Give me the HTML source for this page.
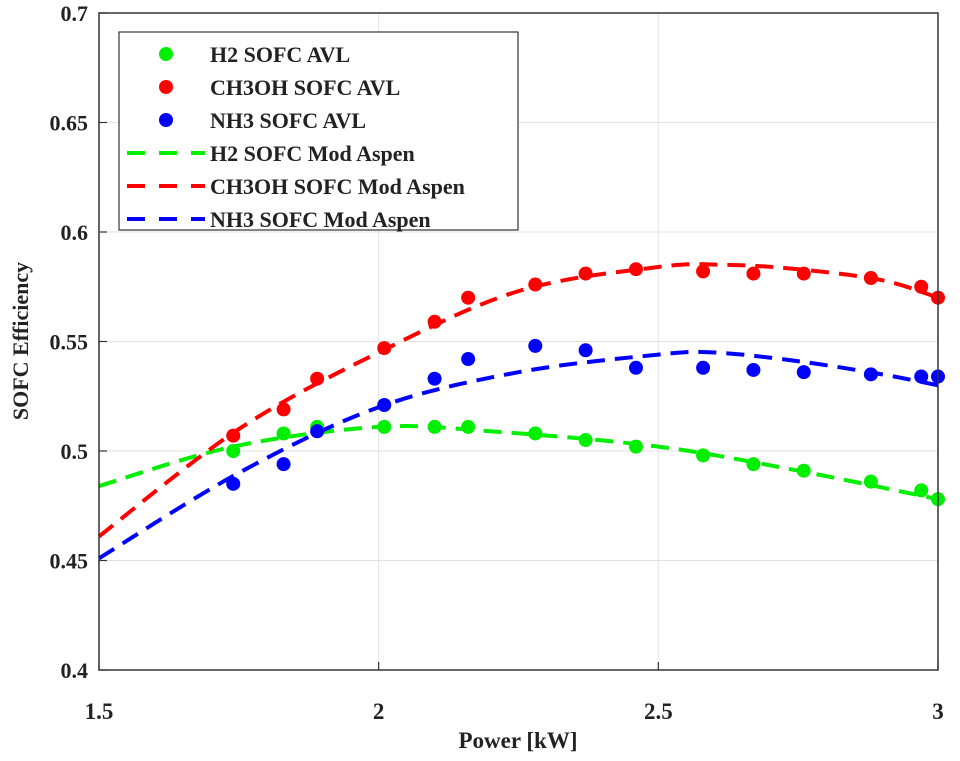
<!DOCTYPE html>
<html><head><meta charset="utf-8"><style>
body{margin:0;background:#fff;}
svg text{font-family:"Liberation Serif",serif;font-weight:bold;fill:#222;}
</style></head><body>
<svg id="chart" width="960" height="756" xmlns="http://www.w3.org/2000/svg">
<g id="grid"></g>
<g id="series"></g>
<rect x="99" y="13" width="839" height="657" fill="none" stroke="#333" stroke-width="1.5"/>
<g id="ticks"></g>
<text x="518" y="748" font-size="23" text-anchor="middle">Power [kW]</text>
<text transform="translate(28,341) rotate(-90)" font-size="22" text-anchor="middle">SOFC Efficiency</text>
<g id="legend">
<rect x="119" y="32" width="399" height="198" fill="#fff" stroke="#333" stroke-width="1.2"/>
</g>
</svg>
<script>
const xTicks=[1.5,2,2.5,3];
const xTickLabels=["1.5","2","2.5","3"];
const yTicks=[0.4,0.45,0.5,0.55,0.6,0.65,0.7];
const yTickLabels=["0.4","0.45","0.5","0.55","0.6","0.65","0.7"];
const pointX=[1.74,1.83,1.89,2.01,2.10,2.16,2.28,2.37,2.46,2.58,2.67,2.76,2.88,2.97,3.0];
const h2Avl=[0.500,0.508,0.511,0.511,0.511,0.511,0.508,0.505,0.502,0.498,0.494,0.491,0.486,0.482,0.478];
const ch3ohAvl=[0.507,0.519,0.533,0.547,0.559,0.570,0.576,0.581,0.583,0.582,0.581,0.581,0.579,0.575,0.570];
const nh3Avl=[0.485,0.494,0.509,0.521,0.533,0.542,0.548,0.546,0.538,0.538,0.537,0.536,0.535,0.534,0.534];
const h2LineX=[1.5,1.74,2.0,2.2,2.5,2.75,3.0];
const h2Line=[0.484,0.502,0.511,0.509,0.502,0.491,0.478];
const ch3ohLineX=[1.5,1.75,2.0,2.25,2.5,2.62,2.75,2.9,3.0];
const ch3ohLine=[0.461,0.510,0.545,0.573,0.584,0.585,0.583,0.578,0.570];
const nh3LineX=[1.5,1.75,2.0,2.25,2.5,2.6,2.75,2.9,3.0];
const nh3Line=[0.451,0.490,0.520,0.536,0.544,0.545,0.541,0.535,0.530];
const legendLabels=["H2 SOFC AVL","CH3OH SOFC AVL","NH3 SOFC AVL","H2 SOFC Mod Aspen","CH3OH SOFC Mod Aspen","NH3 SOFC Mod Aspen"];

const NS="http://www.w3.org/2000/svg";
const X0=99,X1=938,Y0=670,Y1=13;
function sx(v){return X0+(v-1.5)/(3-1.5)*(X1-X0);}
function sy(v){return Y0-(v-0.4)/(0.7-0.4)*(Y0-Y1);}
function mk(tag,parent,attrs){const e=document.createElementNS(NS,tag);for(const k in attrs)e.setAttribute(k,attrs[k]);parent.appendChild(e);return e;}
const grid=document.getElementById('grid'),ticks=document.getElementById('ticks'),ser=document.getElementById('series'),leg=document.getElementById('legend');
xTicks.forEach((t,i)=>{
 const g=mk('line',grid,{x1:sx(t),x2:sx(t),y1:Y0,y2:Y1,stroke:'#e2e2e2','stroke-width':1});
 
 
 const tk=mk('line',ticks,{x1:sx(t),x2:sx(t),y1:Y0,y2:Y0-8,stroke:'#333','stroke-width':1.2});
 
 
 const tx=mk('text',ticks,{x:sx(t),y:719,'font-size':23,'text-anchor':'middle'});
 tx.textContent=xTickLabels[i];
 
 
});
yTicks.forEach((t,i)=>{
 const g=mk('line',grid,{x1:X0,x2:X1,y1:sy(t),y2:sy(t),stroke:'#e2e2e2','stroke-width':1});
 
 
 const tk=mk('line',ticks,{x1:X0,x2:X0+8,y1:sy(t),y2:sy(t),stroke:'#333','stroke-width':1.2});
 
 
 const tx=mk('text',ticks,{x:88,y:sy(t)+8,'font-size':22,'text-anchor':'end'});
 tx.textContent=yTickLabels[i];
 
 
});
function smoothPath(xs,ys){
 const P=xs.map((x,i)=>[sx(x),sy(ys[i])]);
 let d='M'+P[0][0]+','+P[0][1];
 for(let i=0;i<P.length-1;i++){
  const p0=P[i-1]||P[i],p1=P[i],p2=P[i+1],p3=P[i+2]||p2;
  const c1=[p1[0]+(p2[0]-p0[0])/6,p1[1]+(p2[1]-p0[1])/6];
  const c2=[p2[0]-(p3[0]-p1[0])/6,p2[1]-(p3[1]-p1[1])/6];
  d+=' C'+c1[0]+','+c1[1]+' '+c2[0]+','+c2[1]+' '+p2[0]+','+p2[1];
 }
 return d;
}
function line(xs,ys,color,name){
 const p=mk('path',ser,{d:smoothPath(xs,ys),fill:'none',stroke:color,'stroke-width':4,'stroke-dasharray':'18 10'});
 
 
}
function pts(ys,color,name){
 ys.forEach((y,i)=>{
  const c=mk('circle',ser,{cx:sx(pointX[i]),cy:sy(y),r:7,fill:color});
  
  
 });
}
line(h2LineX,h2Line,'#00ee00','h2-mod-aspen-line');
line(ch3ohLineX,ch3ohLine,'#ff0000','ch3oh-mod-aspen-line');
line(nh3LineX,nh3Line,'#0000ff','nh3-mod-aspen-line');
pts(h2Avl,'#00ee00','h2-avl-point');
pts(ch3ohAvl,'#ff0000','ch3oh-avl-point');
pts(nh3Avl,'#0000ff','nh3-avl-point');
const cols=['#00ee00','#ff0000','#0000ff','#00ee00','#ff0000','#0000ff'];
legendLabels.forEach((l,i)=>{
 const y=54+i*33;
 if(i<3){
  const c=mk('circle',leg,{cx:166,cy:y,r:7,fill:cols[i]});
  
  
 }else{
  const p=mk('line',leg,{x1:127,x2:205,y1:y,y2:y,stroke:cols[i],'stroke-width':4,'stroke-dasharray':'18 14'});
  
  
 }
 const t=mk('text',leg,{x:210,y:y+8,'font-size':22});
 t.textContent=l;
 
 
});
</script>
</body></html>
